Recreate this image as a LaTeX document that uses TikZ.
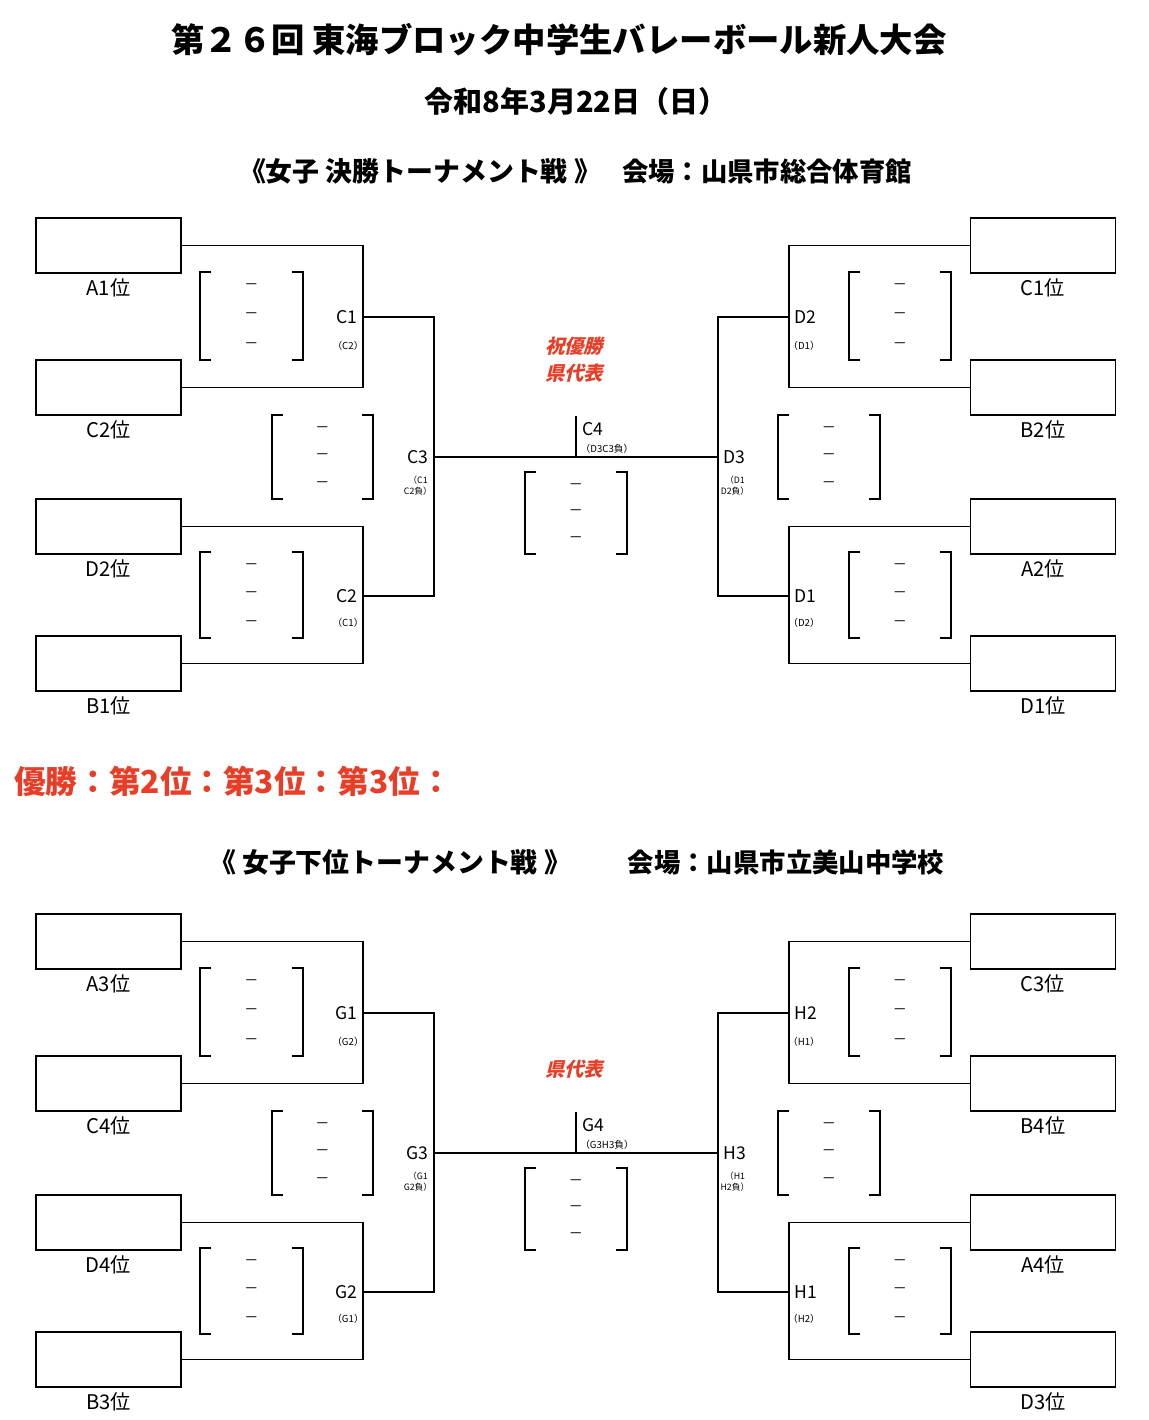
\documentclass[tikz,border=0pt]{standalone}
\usepackage{fontspec}
\setmainfont{Noto Sans CJK JP}
\usetikzlibrary{positioning}
\definecolor{akaji}{RGB}{232,62,40}
\tikzstyle{waku} = [rectangle, draw=black, line width=1.1pt, minimum width=2.9cm, minimum height=1.1cm, inner sep=0pt]
\tikzstyle{juni} = [font=\fontsize{11.5}{13}\selectfont, inner sep=0pt]
\tikzstyle{shiai} = [font=\fontsize{10}{11}\selectfont, inner sep=1pt]
\tikzstyle{chiisai} = [font=\fontsize{5.5}{6.3}\selectfont, align=center, inner sep=0pt]
\tikzstyle{chiisai2} = [font=\fontsize{5}{6.3}\selectfont, align=center, inner sep=0pt]
\tikzstyle{haifun} = [font=\fontsize{8}{9}\selectfont, inner sep=0pt]
\tikzstyle{iwaimoji} = [font=\fontsize{11}{12}\selectfont\bfseries, text=akaji, xslant=0.25, transform shape]
\tikzstyle{sen} = [line width=0.95pt]
\tikzstyle{kakko} = [line width=1.1pt]
\newcommand{\tokuten}[4]{%
  \draw[kakko] ({#1+11},#2) -| (#1,#4) -- ({#1+11},#4);
  \draw[kakko] ({#3-11},#2) -| (#3,#4) -- ({#3-11},#4);
  \foreach \yy in {{#2+15},{(#2+#4)/2},{#4-14}}
    \node[haifun] at ({(#1+#3)/2},{\yy}) {－};
}
\begin{document}
\begin{tikzpicture}[x=0.02cm, y=-0.02cm]
\useasboundingbox (0,0) rectangle (1149,1420);
\node[font=\fontsize{19}{21}\selectfont\bfseries] (title) at (559,40) {第２６回 東海ブロック中学生バレーボール新人大会};
\node[font=\fontsize{16.5}{18}\selectfont\bfseries] (hizuke) at (576,101) {令和8年3月22日（日）};
\node[font=\fontsize{15.3}{17}\selectfont\bfseries] (kessho) at (420,171) {《女子 決勝トーナメント戦 》};
\node[font=\fontsize{15}{16}\selectfont\bfseries] (kaijo1) at (767,171) {会場：山県市総合体育館};
\node[font=\fontsize{18}{20}\selectfont\bfseries, text=akaji, anchor=west, inner sep=0pt] (kekka) at (14,781) {優勝：第2位：第3位：第3位：};
\node[font=\fontsize{15.3}{17}\selectfont\bfseries] (kai) at (390,862) {《 女子下位トーナメント戦 》};
\node[font=\fontsize{15}{16}\selectfont\bfseries] (kaijo2) at (786,862) {会場：山県市立美山中学校};

\foreach \dy/\hida/\migi/\ta/\tb/\tc/\td/\te/\tf/\tg/\th/\haisha in
  {0/C/D/A1/C2/D2/B1/C1/B2/A2/D1/D3C3, 696/G/H/A3/C4/D4/B3/C3/B4/A4/D3/G3H3}
{
\begin{scope}[shift={(0,\dy)}]
\node[waku] (w\ta) at (108.5,245.5) {};
\node[waku] (w\tb) at (108.5,387.5) {};
\node[waku] (w\tc) at (108.5,526.5) {};
\node[waku] (w\td) at (108.5,663.5) {};
\node[waku] (w\te) at (1043,245.5) {};
\node[waku] (w\tf) at (1043,387.5) {};
\node[waku] (w\tg) at (1043,526.5) {};
\node[waku] (w\th) at (1043,663.5) {};
\foreach \n in {\ta,\tb,\tc,\td,\te,\tf,\tg,\th}
  \node[juni, below=2.5pt of w\n] {\n{}位};

\coordinate (\hida1) at (363,317);
\coordinate (\hida2) at (363,596);
\coordinate (\hida3) at (434,457);
\coordinate (\migi2) at (789,317);
\coordinate (\migi1) at (789,596);
\coordinate (\migi3) at (718,457);
\coordinate (\hida4) at (576,457);
\coordinate (\hida4u) at (576,416);

\draw[sen] (w\ta.east) -| (\hida1) |- (w\tb.east);
\draw[sen] (w\tc.east) -| (\hida2) |- (w\td.east);
\draw[sen] (\hida1) -| (\hida3) |- (\hida2);
\draw[sen] (w\te.west) -| (\migi2) |- (w\tf.west);
\draw[sen] (w\tg.west) -| (\migi1) |- (w\th.west);
\draw[sen] (\migi2) -| (\migi3) |- (\migi1);
\draw[sen] (\hida3) -- (\migi3);
\draw[sen] (\hida4) -- (\hida4u);

\node[shiai, left=2pt of \hida1] (n\hida1) {\hida1};
\node[shiai, left=2pt of \hida2] (n\hida2) {\hida2};
\node[shiai, left=2pt of \hida3] (n\hida3) {\hida3};
\node[shiai, right=2pt of \migi2] (n\migi2) {\migi2};
\node[shiai, right=2pt of \migi1] (n\migi1) {\migi1};
\node[shiai, right=2pt of \migi3] (n\migi3) {\migi3};
\node[shiai, anchor=west] (n\hida4) at (580,429) {\hida4};

\node[chiisai] at (348,346) {（\hida2）};
\node[chiisai] at (348,623) {（\hida1）};
\node[chiisai2] at (418,486) {（\hida1\\\hida2負）};
\node[chiisai] at (804,346) {（\migi1）};
\node[chiisai] at (804,623) {（\migi2）};
\node[chiisai2] at (735,486) {（\migi1\\\migi2負）};
\node[chiisai] at (607,449) {（{\haisha}負）};

\tokuten{200}{272}{303}{360}
\tokuten{272}{415}{373}{499}
\tokuten{200}{552}{303}{638}
\tokuten{525}{472}{627}{554}
\tokuten{849}{272}{951}{360}
\tokuten{778}{415}{880}{499}
\tokuten{849}{552}{951}{638}

\node[iwaimoji] (daihyo\hida) at (576,373) {県代表};
\ifnum\dy=0 \node[iwaimoji] (shuku) at (576,346) {祝優勝}; \fi
\end{scope}
}
\end{tikzpicture}
\end{document}
